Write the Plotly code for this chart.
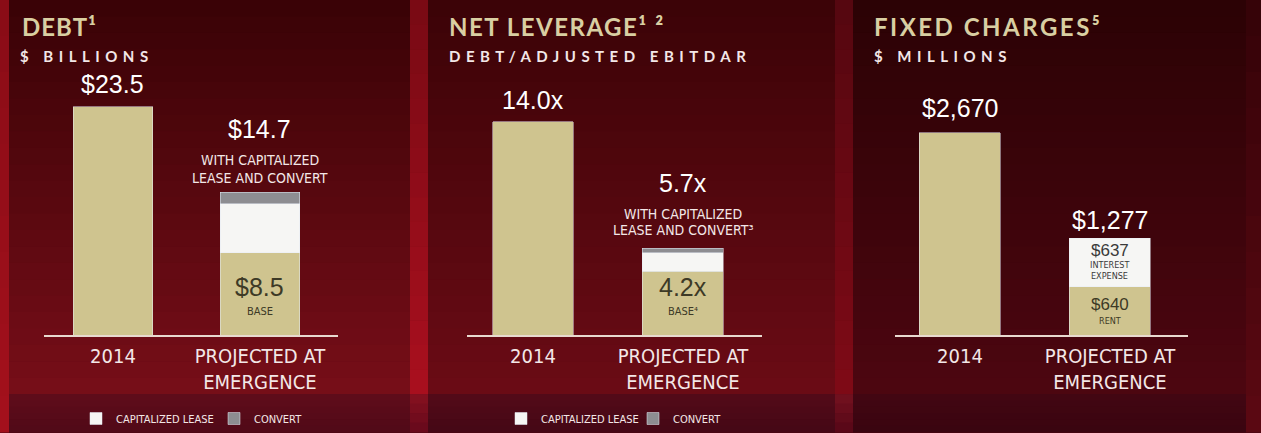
import plotly.graph_objects as go

# ---------------- data ----------------
categories = ["2014", "PROJECTED AT<br>EMERGENCE"]

# Panel 1 - Debt ($ billions)
debt_base = [23.5, 8.5]
debt_lease = [None, 5.0]
debt_convert = [None, 1.2]
debt_labels = ["$23.5", "$14.7"]
debt_base_label = "$8.5"

# Panel 2 - Net leverage (Debt / Adjusted EBITDAR)
lev_base = [14.0, 4.2]
lev_lease = [None, 1.2]
lev_convert = [None, 0.3]
lev_labels = ["14.0x", "5.7x"]
lev_base_label = "4.2x"

# Panel 3 - Fixed charges ($ millions)
fc_rent = [2670, 640]
fc_interest = [None, 637]
fc_labels = ["$2,670", "$1,277"]
fc_rent_label = "$640"
fc_interest_label = "$637"

titles = ["DEBT¹", "NET LEVERAGE¹ ²", "FIXED CHARGES⁵"]
subtitles = ["$ BILLIONS", "DEBT/ADJUSTED EBITDAR", "$ MILLIONS"]

# ---------------- styling ----------------
W, H = 1261, 433
TAN = "#cfc48f"
WHITE_SEG = "#f6f6f4"
GREY_SEG = "#8d8d91"
TITLE_C = "#d9cfa2"
TXT_C = "#f3e7e7"
DARK_TXT = "#3d3a26"
NUM_FONT = "Liberation Sans, Arial, sans-serif"
NARROW = "Liberation Sans Narrow, Arial Narrow, DejaVu Sans Condensed, Roboto Condensed, sans-serif"
TITLE_FONT = "Lato, Open Sans, sans-serif"


def px(x):
    return x / W


def py(y):
    return 1 - y / H


def total(*cols):
    out = []
    for vals in zip(*cols):
        out.append(sum(v for v in vals if v is not None))
    return out


fig = go.Figure()

# ---- traces ----
def add_stack(axis, legend, base, lease, convert, show):
    xa = "x" + ("" if axis == 1 else str(axis))
    ya = "y" + ("" if axis == 1 else str(axis))
    fig.add_trace(go.Bar(x=categories, y=base, xaxis=xa, yaxis=ya, marker_color=TAN,
                         width=0.54, showlegend=False, hoverinfo="skip"))
    fig.add_trace(go.Bar(x=categories, y=lease, xaxis=xa, yaxis=ya, marker_color=WHITE_SEG,
                         width=0.54, name="CAPITALIZED LEASE", showlegend=show,
                         legend=legend, hoverinfo="skip"))
    fig.add_trace(go.Bar(x=categories, y=convert, xaxis=xa, yaxis=ya, marker_color=GREY_SEG,
                         width=0.54, name="CONVERT", showlegend=show,
                         legend=legend, hoverinfo="skip"))


add_stack(1, "legend", debt_base, debt_lease, debt_convert, True)
add_stack(2, "legend2", lev_base, lev_lease, lev_convert, True)
fig.add_trace(go.Bar(x=categories, y=fc_rent, xaxis="x3", yaxis="y3", marker_color=TAN,
                     width=0.54, showlegend=False, hoverinfo="skip"))
fig.add_trace(go.Bar(x=categories, y=fc_interest, xaxis="x3", yaxis="y3", marker_color=WHITE_SEG,
                     width=0.54, showlegend=False, hoverinfo="skip"))

# ---- background shapes ----
shapes = []


def hex2rgb(h):
    h = h.lstrip("#")
    return tuple(int(h[i:i + 2], 16) for i in (0, 2, 4))


def vgrad(x0, x1, y0, y1, c0, c1, n=24):
    a, b = hex2rgb(c0), hex2rgb(c1)
    for i in range(n):
        t = i / (n - 1)
        c = tuple(round(a[k] + (b[k] - a[k]) * t) for k in range(3))
        ya0 = y0 + (y1 - y0) * i / n
        ya1 = y0 + (y1 - y0) * (i + 1) / n + 0.5
        shapes.append(dict(type="rect", xref="paper", yref="paper", layer="below",
                           x0=px(x0), x1=px(x1), y0=py(ya1), y1=py(ya0),
                           fillcolor="rgb(%d,%d,%d)" % c, line=dict(width=0)))


# panels
vgrad(0, 410, 0, 395, "#3a0206", "#760e18")
vgrad(0, 410, 395, 433, "#5e0c1a", "#520a18", 6)
vgrad(428, 835, 0, 395, "#3c0307", "#6a0b15")
vgrad(428, 835, 395, 433, "#520a18", "#460816", 6)
vgrad(853, 1261, 0, 395, "#2c0205", "#4c0610")
vgrad(853, 1261, 395, 433, "#420612", "#3a0510", 6)
# separators
vgrad(0, 9, 0, 433, "#8a0c16", "#a3101c", 12)
vgrad(410, 428, 0, 395, "#7a0a14", "#a80f1e", 16)
vgrad(410, 428, 395, 433, "#82101f", "#6a0a1c", 4)
vgrad(835, 853, 0, 395, "#560710", "#7e0a16", 16)
vgrad(835, 853, 395, 433, "#70101e", "#5a0818", 4)
vgrad(1246, 1261, 0, 433, "#360308", "#5a0812", 12)

# ---- axes ----
ydom = [py(336), 1]
axis_common = dict(showgrid=False, zeroline=False, ticks="", showline=True,
                   linecolor="#e8d9cf", linewidth=2, type="category", ticklabelstandoff=2,
                   tickfont=dict(family=NARROW, size=20, color=TXT_C), fixedrange=True)
yaxis_common = dict(showgrid=False, zeroline=False, showticklabels=False,
                    showline=False, fixedrange=True)

fig.update_layout(
    xaxis=dict(domain=[px(44), px(338)], range=[-0.469, 1.531], anchor="y", **axis_common),
    xaxis2=dict(domain=[px(467), px(762)], range=[-0.44, 1.527], anchor="y2", **axis_common),
    xaxis3=dict(domain=[px(895), px(1188)], range=[-0.433, 1.52], anchor="y3", **axis_common),
    yaxis=dict(domain=ydom, range=[0, 34.48], anchor="x", **yaxis_common),
    yaxis2=dict(domain=ydom, range=[0, 21.98], anchor="x2", **yaxis_common),
    yaxis3=dict(domain=ydom, range=[0, 4419], anchor="x3", **yaxis_common),
)

# ---- annotations ----
ann = []


def text(x, y, s, size, color, family, xref="paper", yref="paper", xanchor="left",
         yshift=0, weight="normal"):
    ann.append(dict(x=x, y=y, xref=xref, yref=yref, text=s, showarrow=False,
                    xanchor=xanchor, yanchor="middle", yshift=yshift, align=xanchor,
                    font=dict(size=size, color=color, family=family, weight=weight)))


# titles / subtitles
title_x = [20, 447, 872]
sub_x = [18, 447, 872]
for t, s, tx, sx in zip(titles, subtitles, title_x, sub_x):
    text(px(tx), py(26.5), t, 24, TITLE_C, TITLE_FONT, weight="bold")
    text(px(sx), py(56), s, 15, TXT_C, TITLE_FONT, weight="bold")

# category positions on the category axes (index 0 and 1)
C0, C1 = 0, 1

# panel 1 labels
d_tot = total(debt_base, debt_lease, debt_convert)
text(C0, d_tot[0], debt_labels[0], 25, "white", NUM_FONT, "x", "y", "center", 23)
text(C1, d_tot[1], debt_labels[1], 25, "white", NUM_FONT, "x", "y", "center", 63)
text(C1, d_tot[1], "WITH CAPITALIZED", 14, TXT_C, NARROW, "x", "y", "center", 32)
text(C1, d_tot[1], "LEASE AND CONVERT", 14, TXT_C, NARROW, "x", "y", "center", 14.5)
text(C1, 0, debt_base_label, 25, DARK_TXT, NUM_FONT, "x", "y", "center", 48)
text(C1, 0, "BASE", 11, DARK_TXT, NARROW, "x", "y", "center", 24)

# panel 2 labels
l_tot = total(lev_base, lev_lease, lev_convert)
text(C0, l_tot[0], lev_labels[0], 25, "white", NUM_FONT, "x2", "y2", "center", 22)
text(C1, l_tot[1], lev_labels[1], 25, "white", NUM_FONT, "x2", "y2", "center", 65)
text(C1, l_tot[1], "WITH CAPITALIZED", 14, TXT_C, NARROW, "x2", "y2", "center", 34)
text(C1, l_tot[1], "LEASE AND CONVERT³", 14, TXT_C, NARROW, "x2", "y2", "center", 18)
text(C1, 0, lev_base_label, 25, DARK_TXT, NUM_FONT, "x2", "y2", "center", 48)
text(C1, 0, "BASE⁴", 11, DARK_TXT, NARROW, "x2", "y2", "center", 24)

# panel 3 labels
f_tot = total(fc_rent, fc_interest)
text(C0, f_tot[0], fc_labels[0], 25, "white", NUM_FONT, "x3", "y3", "center", 25)
text(C1, f_tot[1], fc_labels[1], 25, "white", NUM_FONT, "x3", "y3", "center", 18)
text(C1, fc_rent[1], fc_interest_label, 17, "#3a3a3a", NUM_FONT, "x3", "y3", "center", 36)
text(C1, fc_rent[1], "INTEREST", 9, "#3a3a3a", NARROW, "x3", "y3", "center", 22)
text(C1, fc_rent[1], "EXPENSE", 9, "#3a3a3a", NARROW, "x3", "y3", "center", 11)
text(C1, 0, fc_rent_label, 17, DARK_TXT, NUM_FONT, "x3", "y3", "center", 31)
text(C1, 0, "RENT", 9, DARK_TXT, NARROW, "x3", "y3", "center", 14.5)

legend_common = dict(orientation="h", yanchor="middle", xanchor="left", bgcolor="rgba(0,0,0,0)",
                     font=dict(family=NARROW, size=11, color=TXT_C), itemwidth=30,
                     entrywidthmode="pixels",
                     traceorder="normal", itemclick=False, itemdoubleclick=False)

fig.update_layout(
    width=W, height=H,
    margin=dict(l=0, r=0, t=0, b=0),
    paper_bgcolor="#4a0610",
    plot_bgcolor="rgba(0,0,0,0)",
    barmode="stack",
    showlegend=True,
    legend=dict(x=px(76), y=py(419), entrywidth=93, **legend_common),
    legend2=dict(x=px(501), y=py(419), entrywidth=87, **legend_common),
    shapes=shapes,
    annotations=ann,
    hovermode=False,
)

# letter spacing of the title / subtitle lettering (pure styling)
spacing_js = """
var sp = {"DEBT¹": "1px", "NET LEVERAGE¹ ²": "1.5px", "FIXED CHARGES⁵": "2.5px",
          "$ BILLIONS": "5.5px", "DEBT/ADJUSTED EBITDAR": "5.5px", "$ MILLIONS": "5.5px"};
document.querySelectorAll('text.annotation-text').forEach(function(t) {
  var k = t.getAttribute('data-unformatted');
  if (sp[k]) { t.style.letterSpacing = sp[k]; }
});
document.body.style.margin = '0';
document.body.style.overflow = 'hidden';
"""

fig.write_html("out.html", config={"displayModeBar": False, "staticPlot": True},
               post_script=spacing_js)
